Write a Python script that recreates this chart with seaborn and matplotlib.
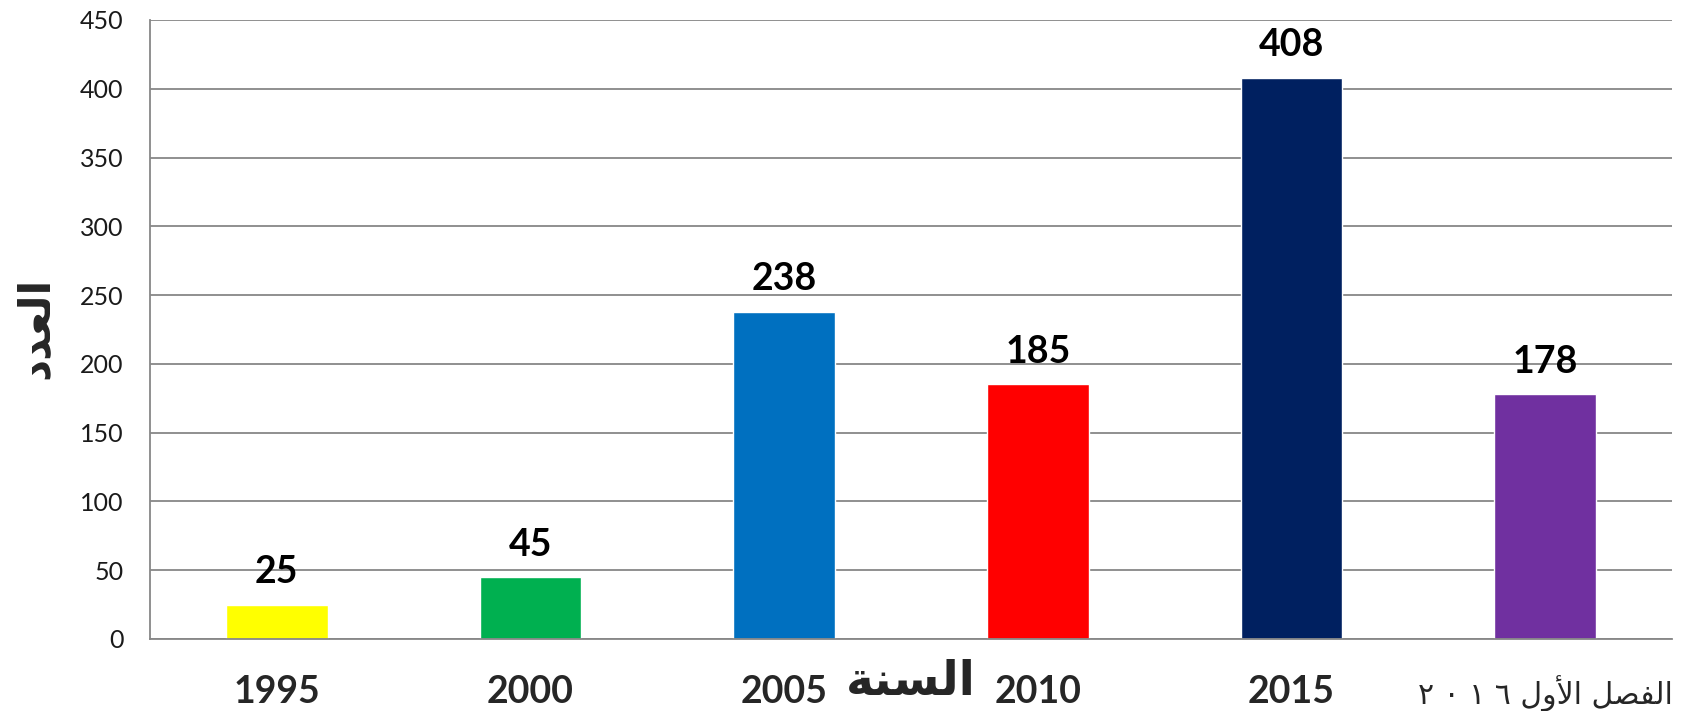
import seaborn as sns
import matplotlib.pyplot as plt

# Arabic text is stored in visual order with presentation forms,
# because matplotlib does no Arabic shaping or bidi
y_title = "ﺩﺪﻌﻟﺍ"          # العدد
x_title = "ﺔﻨﺴﻟﺍ"          # السنة
categories = ["1995", "2000", "2005", "2010", "2015",
              "٢ ٠ ١ ٦ ﻝﻭﻷﺍ ﻞﺼﻔﻟﺍ"]   # الفصل الأول ٢٠١٦
values = [25, 45, 238, 185, 408, 178]
colors = ["#FFFF00", "#00B050", "#0070C0", "#FF0000", "#002060", "#7030A0"]
y_ticks = list(range(0, 451, 50))

sns.set_style("white")
plt.rcParams["font.family"] = ["Lato", "DejaVu Sans"]

fig = plt.figure(figsize=(17.02, 7.11), dpi=100)
ax = fig.add_axes([0.0881, 0.1013, 0.8943, 0.8706])

sns.barplot(x=list(range(len(values))), y=values, hue=list(range(len(values))),
            palette=colors, legend=False, width=0.4, saturation=1, ax=ax)

for cont in ax.containers:
    ax.bar_label(cont, padding=11, fontsize=27, fontweight="bold", color="black")

ax.set_ylim(0, 450)
ax.set_xlim(-0.5, len(values) - 0.5)
ax.set_yticks(y_ticks)
ax.set_yticklabels([str(t) for t in y_ticks], fontsize=18, color="#1a1a1a")
ax.yaxis.grid(True, color="#878787", linewidth=1.3)
ax.set_axisbelow(True)

ax.set_xticks(range(len(categories)))
ax.set_xticklabels(categories)
for i, lab in enumerate(ax.get_xticklabels()):
    if i < 5:
        lab.set_fontsize(27)
        lab.set_fontweight("bold")
    else:
        lab.set_fontsize(21.5)
        lab.set_family("DejaVu Sans")
ax.tick_params(axis="x", length=0, pad=26)
ax.tick_params(axis="y", length=7, width=1.2, color="#878787", pad=12)

for side in ["top", "right"]:
    ax.spines[side].set_visible(False)
for side in ["left", "bottom"]:
    ax.spines[side].set_color("#878787")
    ax.spines[side].set_linewidth(1.3)

ax.set_xlabel("")
ax.set_ylabel("")
ax.text(0.5, -0.07, x_title, transform=ax.transAxes, ha="center", va="center",
        fontsize=34, fontweight="bold", family="DejaVu Sans")
ax.text(-0.075, 0.502, y_title, transform=ax.transAxes, ha="center", va="center",
        rotation=90, fontsize=31, fontweight="bold", family="DejaVu Sans")

fig.savefig("out.png", dpi=100)
